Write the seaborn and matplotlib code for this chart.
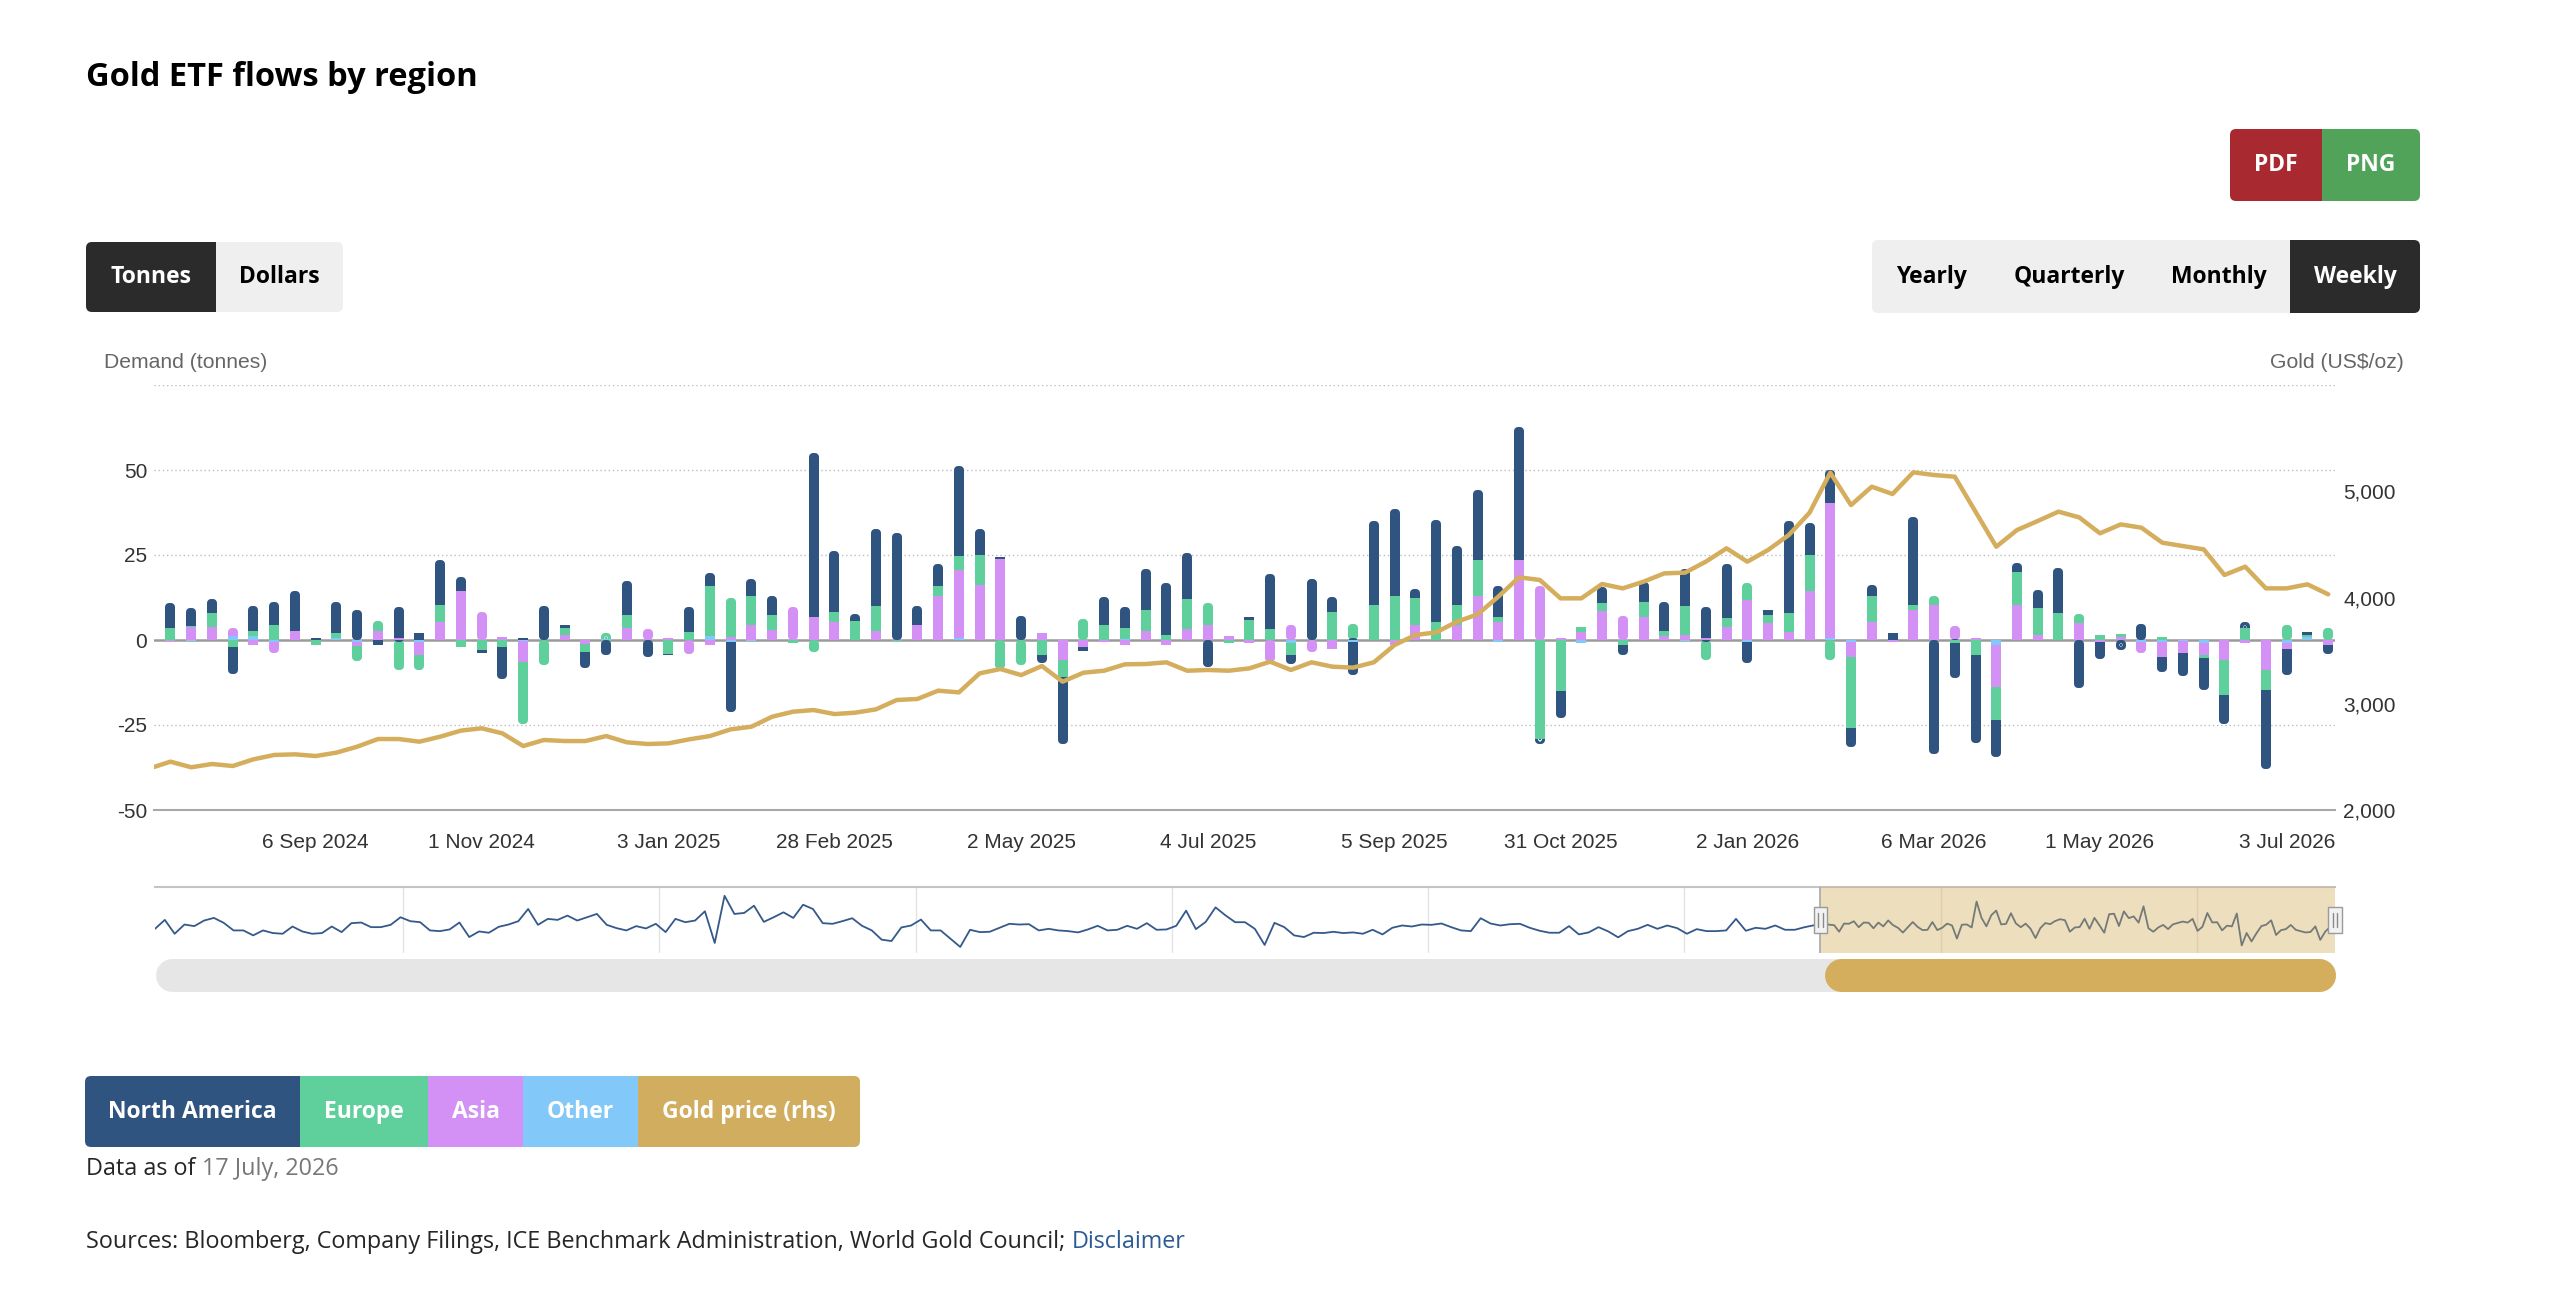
import numpy as np
import pandas as pd
import matplotlib
matplotlib.use('Agg')
import matplotlib.pyplot as plt
import matplotlib.dates as mdates
import matplotlib.transforms as mtransforms
from matplotlib.patches import FancyBboxPatch, Rectangle
from matplotlib.lines import Line2D
import seaborn as sns

# weekly ETF flows (tonnes), week ending Friday 19 Jul 2024 .. 17 Jul 2026
north_america = [7.2, 5.2, 4.2, -7.9, 7.2, 6.9, 11.6, 0.5, 9.1, 8.8,
                 -1.5, 9.1, 2.0, 13.1, 4.2, -0.7, -9.5, 0.5, 10.1, 1.0,
                 -4.9, -4.4, 10.1, -4.9, -0.5, 7.2, 3.8, -20.6, 5.1, 5.6,
                 0.0, 48.2, 18.0, 2.1, 22.8, 31.5, 5.7, 6.7, 26.5, 7.6,
                 0.5, 7.1, -2.5, -19.7, -1.0, 8.2, 6.2, 12.0, 15.4, 13.5,
                 -7.9, 0.0, 0.8, 16.3, -2.5, 17.9, 4.5, -9.8, 24.6, 25.6,
                 2.7, 30.0, 17.4, 20.6, 9.0, 39.3, -1.5, -7.9, 0.0, 4.7,
                 -3.0, 5.9, 8.4, 11.0, 9.1, 16.0, -6.4, 1.3, 27.0, 9.3,
                 9.8, -5.4, 3.4, 2.0, 26.0, -33.4, -10.3, -26.0, -10.8, 2.5,
                 5.2, 13.3, -14.0, -5.0, -3.0, 4.7, -4.4, -6.9, -9.3, -8.4,
                 2.0, -23.1, -7.9, 1.0, -2.5]
europe = [3.6, 0.4, 4.1, -2.0, 1.5, 4.4, 0.0, -1.5, 1.5, -4.3,
          2.8, -8.8, -4.4, 4.9, -2.0, -3.0, -2.0, -18.2, -7.4, 2.0,
          -2.2, 1.8, 3.9, 0.0, -4.0, 2.5, 14.8, 11.5, 8.4, 4.4,
          -1.0, -3.4, 2.9, 5.6, 7.2, -0.3, 0.0, 2.8, 3.9, 8.8,
          -8.4, -7.4, -4.4, -4.9, 6.1, 4.4, 3.1, 6.2, 1.5, 9.1,
          6.6, -0.8, 5.9, 3.1, -3.5, 0.0, 8.1, 4.7, 10.3, 12.8,
          7.9, 5.4, 6.0, 10.8, 1.5, 0.0, -29.0, -15.0, 1.3, 2.5,
          -1.5, 4.4, 1.5, 8.4, -6.0, 2.5, 5.1, 2.5, 5.4, 10.8,
          -5.9, -21.1, 7.4, 0.0, 1.5, 2.5, -0.8, -4.4, -9.8, 9.8,
          7.9, 7.9, 2.8, 1.5, 0.8, 0.0, 0.8, 0.0, -1.0, -10.3,
          3.4, -5.9, 4.4, 0.5, 3.4]
asia = [-0.3, 3.7, 3.9, 2.3, -1.5, -3.2, 2.7, 0.0, 0.0, -1.3,
        2.7, 0.7, -4.0, 5.4, 14.3, 8.2, 1.0, -6.1, 0.0, 1.5,
        -1.2, 0.0, 3.4, 3.1, 0.7, -4.0, -1.5, 1.0, 4.4, 2.9,
        9.8, 6.9, 5.4, 0.0, 2.7, 0.0, 4.4, 13.0, 20.0, 16.2,
        23.9, 0.0, 2.0, -5.9, -2.2, -0.5, -1.5, 2.7, -1.5, 3.1,
        4.4, 1.3, -1.0, -6.4, 4.4, -3.4, -2.5, 0.0, 0.0, -1.5,
        4.4, 0.0, 4.3, 12.8, 5.4, 23.4, 15.9, 0.7, 2.5, 8.4,
        7.1, 6.9, 1.2, 1.5, 0.5, 3.9, 11.8, 4.9, 2.5, 14.3,
        39.8, -4.4, 5.4, -0.5, 8.8, 10.3, 4.1, 0.7, -12.3, 10.3,
        1.5, 0.0, 4.9, -0.5, 1.0, -3.4, -4.4, -3.4, -3.4, -5.9,
        -1.0, -8.8, -1.5, 0.0, -1.5]
other = [0.0, -0.3, 0.0, 1.2, 1.2, -0.5, 0.0, 0.0, 0.7, -0.5,
         0.0, 0.0, -0.5, 0.0, 0.0, 0.0, 0.0, -0.3, 0.0, 0.0,
         0.0, 0.4, 0.0, 0.0, 0.0, 0.0, 1.2, -0.5, -0.3, 0.0,
         0.0, 0.0, 0.0, 0.0, 0.0, 0.0, 0.0, 0.0, 0.7, 0.0,
         0.0, 0.0, 0.0, 0.0, 0.0, 0.0, 0.3, 0.0, 0.0, 0.0,
         0.0, 0.0, 0.0, 0.0, -1.0, 0.0, 0.0, -0.5, 0.0, 0.0,
         0.0, 0.0, 0.0, 0.0, -0.5, 0.0, 0.0, 0.0, -1.0, 0.0,
         0.0, 0.0, 0.0, -0.3, 0.0, 0.0, -0.5, 0.0, 0.0, 0.0,
         0.5, -0.5, 0.0, 0.0, 0.0, 0.0, 0.0, 0.0, -1.5, 0.0,
         0.0, 0.0, 0.0, 0.0, 0.0, -0.5, -0.5, -0.3, -1.0, 0.0,
         0.0, 0.0, -1.0, 1.0, 0.0]

# gold price (US$/oz), weekly from 12 Jul 2024
gold_price = [2392, 2455, 2402, 2433, 2414, 2477, 2518, 2524, 2508, 2540,
              2596, 2668, 2668, 2643, 2690, 2747, 2769, 2721, 2602, 2659,
              2649, 2649, 2696, 2637, 2621, 2627, 2665, 2696, 2759, 2784,
              2878, 2925, 2941, 2903, 2916, 2947, 3035, 3045, 3123, 3107,
              3286, 3327, 3270, 3355, 3208, 3292, 3311, 3371, 3374, 3390,
              3311, 3318, 3311, 3333, 3396, 3318, 3390, 3349, 3340, 3390,
              3553, 3647, 3672, 3772, 3841, 4008, 4190, 4165, 3992, 3992,
              4127, 4086, 4149, 4227, 4234, 4337, 4463, 4337, 4447, 4588,
              4798, 5175, 4870, 5043, 4974, 5178, 5153, 5137, 4808, 4478,
              4635, 4720, 4808, 4754, 4604, 4688, 4657, 4516, 4484, 4453,
              4212, 4290, 4086, 4086, 4124, 4030]

# navigator history (North America, tonnes), fortnightly from 12 Jan 2018
nav_history = [-2.5, 14.1, -11.7, 5.5, 2.5, 12.9, 17.8, 8.6, -5.5, -5.5,
               -14.7, -5.5, -10.4, -11.7, 1.8, -7.4, -11.7, -10.4, 1.8, -8.6,
               8.0, 9.2, 0.6, 0.6, 4.9, 19.0, 11.7, 9.8, -5.5, -6.8,
               -3.7, 9.2, -17.8, -7.4, -9.8, 1.2, 5.5, 11.7, 34.4, 4.9,
               16.0, 14.1, 22.1, 12.9, 19.0, 25.2, 4.9, -1.2, -5.5, 2.5,
               -1.8, 6.8, -8.6, 16.0, 9.8, 12.9, 30.1, -28.8, 58.9, 25.2,
               27.0, 40.5, 10.4, 19.0, 28.2, 17.8, 42.3, 34.4, 8.0, 6.8,
               11.7, 17.2, 3.1, -5.5, -22.7, -25.2, 0.0, 3.7, 14.7, -5.5,
               -5.5, -20.9, -36.2, -4.3, -8.6, -8.0, -0.6, 6.8, 5.5, 6.1,
               -5.5, -2.5, -5.5, -6.8, -9.2, -3.7, 3.1, -5.5, -4.3, 3.1,
               -2.5, 8.0, -4.3, -3.7, 3.1, 31.3, -3.1, 10.4, 37.4, 22.7,
               9.8, 9.8, -2.5, -32.5, 8.6, 0.6, -14.7, -17.8, -9.8, -10.4,
               -8.0, -10.4, -9.2, -11.7, -4.3, -12.9, -0.6, 3.7, 1.8, 5.5,
               4.9, 7.4, 0.6, -5.5, -6.8, 17.2, 7.4, 3.7, 6.1, 6.8,
               -0.6, -6.1, -9.8, -9.8, 2.5, -12.9, -9.2, 0.6, -7.4, -18.4,
               -6.8, -2.5, 4.9, -2.5, 3.7, -1.2, -11.7, -3.1, -6.8, -6.8,
               -5.5, 16.0, -6.1, -0.6, -2.5, 3.7, -4.3, -4.3, 0.6, 4.3]

tick_dates = pd.to_datetime(['2024-09-06', '2024-11-01', '2025-01-03', '2025-02-28',
                             '2025-05-02', '2025-07-04', '2025-09-05', '2025-10-31',
                             '2026-01-02', '2026-03-06', '2026-05-01', '2026-07-03'])

weeks = pd.date_range('2024-07-19', periods=len(north_america), freq='7D')
price_weeks = pd.date_range('2024-07-12', periods=len(gold_price), freq='7D')
nav_weeks = pd.date_range('2018-01-12', periods=len(nav_history), freq='14D')

C_NA, C_EU, C_ASIA, C_OTHER, C_GOLD = '#2f5480', '#5fcf9b', '#d391f6', '#82c8f8', '#d4ad5d'

sns.set_style('white')
plt.rcParams['font.family'] = ['Liberation Sans', 'DejaVu Sans']
UI = ['Open Sans', 'DejaVu Sans']

W, H = 2560, 1305
fig = plt.figure(figsize=(W / 100, H / 100), dpi=100)
PIX = mtransforms.IdentityTransform()


def fx(x):
    return x / W


def fy(y):
    return 1 - y / H


def box(x0, y0, x1, y1, color, r=0):
    style = f'round,pad=0,rounding_size={r}' if r else 'square,pad=0'
    fig.add_artist(FancyBboxPatch((x0, H - y1), x1 - x0, y1 - y0, boxstyle=style,
                                  transform=PIX, facecolor=color, edgecolor='none'))


def button_group(segs, y0, y1, r=6):
    n = len(segs)
    for k, (x0, x1, c) in enumerate(segs):
        mid = (x0 + x1) / 2
        if k == 0 or k == n - 1:
            box(x0, y0, x1, y1, c, r)
            if n > 1:
                box(mid, y0, x1, y1, c) if k == 0 else box(x0, y0, mid, y1, c)
        else:
            box(x0, y0, x1, y1, c)


def label(x, y, s, color='black', size=16.5, weight='bold', ha='center'):
    return fig.text(fx(x), fy(y), s, ha=ha, va='center', color=color,
                    fontsize=size, fontweight=weight, family=UI)


# ---- header ----
label(86, 78, 'Gold ETF flows by region', size=23.5, ha='left')
button_group([(86, 216, '#2b2b2b'), (216, 343, '#efefef')], 242, 312)
label(151, 277, 'Tonnes', 'white')
label(279.5, 277, 'Dollars')
button_group([(2230, 2322, '#a8292f'), (2322, 2420, '#52a35a')], 129, 201)
label(2276, 165, 'PDF', 'white')
label(2371, 165, 'PNG', 'white')
button_group([(1872, 2290, '#efefef'), (2290, 2420, '#2b2b2b')], 240, 313)
label(1931, 277, 'Yearly')
label(2069, 277, 'Quarterly')
label(2219, 277, 'Monthly')
label(2355, 277, 'Weekly', 'white')

fig.text(fx(104), fy(362), 'Demand (tonnes)', ha='left', va='center', fontsize=15.2, color='#666666')
fig.text(fx(2404), fy(362), 'Gold (US$/oz)', ha='right', va='center', fontsize=15.2, color='#666666')

# ---- main chart ----
ax = fig.add_axes([fx(154), fy(810), fx(2335) - fx(154), fy(385) - fy(810)])
x_left, x_right = pd.Timestamp('2024-07-13 10:30'), pd.Timestamp('2026-07-19 07:00')
ymin, ymax = -50, 75
px_day = (2335 - 154) / ((x_right - x_left) / pd.Timedelta(days=1))
px_t = (810 - 385) / (ymax - ymin)
bar_px, rad_px = 10, 4
r_t = rad_px / px_t

for g in [-25, 25, 50, 75]:
    ax.axhline(g, color='#bdbdbd', lw=1, ls=(0, (1, 2)), zorder=0)
ax.axhline(0, color='#9a9a9a', lw=1.8, zorder=1)

# stacking order from zero outwards
stack = [(other, C_OTHER), (asia, C_ASIA), (europe, C_EU), (north_america, C_NA)]
vals = np.array([s[0] for s in stack], dtype=float)
pos = np.where(vals > 0, vals, 0.0)
neg = np.where(vals < 0, vals, 0.0)
pos_base = np.cumsum(pos, axis=0) - pos
neg_base = np.cumsum(neg, axis=0) - neg
pos_outer = (pos > 0) & ((np.cumsum(pos[::-1], axis=0)[::-1] - pos) == 0)
neg_outer = (neg < 0) & ((np.cumsum(neg[::-1], axis=0)[::-1] - neg) == 0)

w_full = bar_px / px_day
w_round = (bar_px - 2 * rad_px) / px_day
lw_round = 2 * rad_px * 0.72

for k, (_, c) in enumerate(stack):
    for h, base, outer, sgn in [(pos[k], pos_base[k], pos_outer[k], 1), (neg[k], neg_base[k], neg_outer[k], -1)]:
        # rounded outer end of each stack; very short segments stay square
        lo = base + sgn * np.where(base == 0, r_t, 0.0)
        hi = base + h - sgn * r_t
        roundable = outer & ((hi - lo) * sgn > 0.3)
        if roundable.any():
            ax.bar(weeks[roundable], (hi - lo)[roundable], bottom=lo[roundable], width=w_round,
                   color=c, edgecolor=c, linewidth=lw_round, joinstyle='round', zorder=2)
        plain = (h != 0) & ~roundable
        if plain.any():
            ax.bar(weeks[plain], h[plain], bottom=base[plain], width=w_full,
                   color=c, linewidth=0, zorder=3)

ax.set_ylim(ymin, ymax)
ax.set_yticks([-50, -25, 0, 25, 50])
ax.set_yticklabels(['-50', '-25', '0', '25', '50'])
ax.tick_params(axis='y', length=0, pad=5, labelsize=15, labelcolor='#333333')
ax.set_xticks(tick_dates)
ax.set_xticklabels([f'{d.day} {d:%b %Y}' for d in tick_dates])
ax.tick_params(axis='x', length=11.5, width=1.1, color='#a0a0a0', pad=5, labelsize=15, labelcolor='#333333')
for s in ['top', 'left', 'right']:
    ax.spines[s].set_visible(False)
ax.spines['bottom'].set_color('#a8a8a8')
ax.spines['bottom'].set_linewidth(1.5)

ax2 = ax.twinx()
price_df = pd.DataFrame({'date': price_weeks, 'price': gold_price})
sns.lineplot(data=price_df, x='date', y='price', ax=ax2, color=C_GOLD, lw=3.2)
ax2.set_ylim(2000, 6000)
ax2.set_yticks([2000, 3000, 4000, 5000])
ax2.set_yticklabels(['2,000', '3,000', '4,000', '5,000'])
ax2.tick_params(axis='y', length=0, pad=6, labelsize=15, labelcolor='#333333')
for s in ax2.spines.values():
    s.set_visible(False)
ax2.set_xlabel('')
ax2.set_ylabel('')
ax.set_xlim(x_left, x_right)
ax.set_xlabel('')

# ---- navigator ----
nav = fig.add_axes([fx(155), fy(953), fx(2335) - fx(155), fy(887) - fy(953)])
nav_df = pd.DataFrame({'date': list(nav_weeks) + list(weeks),
                       'tonnes': nav_history + north_america})
for yr in range(2019, 2027):
    nav.axvline(pd.Timestamp(f'{yr}-01-01'), color='#e4e4e4', lw=1, zorder=0)
sns.lineplot(data=nav_df, x='date', y='tonnes', ax=nav, color='#34598a', lw=1.3)
nav_start, nav_end = nav_weeks[0], weeks[-1]
nav.set_xlim(nav_start, nav_end)
nav.set_ylim(-47.5, 75.3)
nav.axvspan(x_left, nav_end, color=C_GOLD, alpha=0.4, lw=0, zorder=3)
nav.axvline(x_left, color='#a8a8a8', lw=1.2, zorder=4)
nav.set_xticks([])
nav.set_yticks([])
nav.set_xlabel('')
nav.set_ylabel('')
for s in ['left', 'right', 'bottom']:
    nav.spines[s].set_visible(False)
nav.spines['top'].set_color('#c4c4c4')
nav.spines['top'].set_linewidth(1.5)

nav_px_day = (2335 - 155) / ((nav_end - nav_start) / pd.Timedelta(days=1))
hw = 13.5 / nav_px_day
trans = mtransforms.blended_transform_factory(nav.transData, nav.transAxes)
for hx in [x_left, nav_end]:
    xn = mdates.date2num(hx)
    nav.add_patch(Rectangle((xn - hw / 2, 0.30), hw, 0.39, transform=trans, facecolor='#f2f2f2',
                            edgecolor='#9a9a9a', lw=1, zorder=6, clip_on=False))
    for dx in (-0.17, 0.17):
        nav.add_line(Line2D([xn + dx * hw] * 2, [0.40, 0.60], transform=trans, color='#8a8a8a',
                            lw=1, zorder=7, clip_on=False))


def pill(x0, x1, y, color, thick=33):
    fig.add_artist(Line2D([x0 + thick / 2, x1 - thick / 2], [H - y, H - y], transform=PIX,
                          color=color, lw=thick * 0.72, solid_capstyle='round'))


pill(155, 2335, 975, '#e6e6e6')
pill(1824, 2335, 975, C_GOLD)

# ---- legend buttons ----
legend_items = [('North America', C_NA), ('Europe', C_EU), ('Asia', C_ASIA),
                ('Other', C_OTHER), ('Gold price (rhs)', '#d1ad5f')]
legend_edges = [85, 300, 428, 523, 638, 860]
button_group([(legend_edges[i], legend_edges[i + 1], c) for i, (_, c) in enumerate(legend_items)], 1076, 1147)
for i, (name, _) in enumerate(legend_items):
    label((legend_edges[i] + legend_edges[i + 1]) / 2, 1111.5, name, 'white')

# ---- footer ----
renderer = fig.canvas.get_renderer()
t1 = fig.text(fx(86), fy(1169), 'Data as of ', ha='left', va='center', fontsize=16.8, family=UI)
bb = t1.get_window_extent(renderer)
fig.text(bb.x1 / W, fy(1169), '17 July, 2026', ha='left', va='center', fontsize=16.8,
         family=UI, color='#777777')
t2 = fig.text(fx(86), fy(1242), 'Sources: Bloomberg, Company Filings, ICE Benchmark Administration, World Gold Council; ',
              ha='left', va='center', fontsize=16.8, family=UI)
bb = t2.get_window_extent(renderer)
fig.text(bb.x1 / W, fy(1242), 'Disclaimer', ha='left', va='center', fontsize=16.8,
         family=UI, color='#2c5b94')

fig.savefig('out.png', dpi=100)
